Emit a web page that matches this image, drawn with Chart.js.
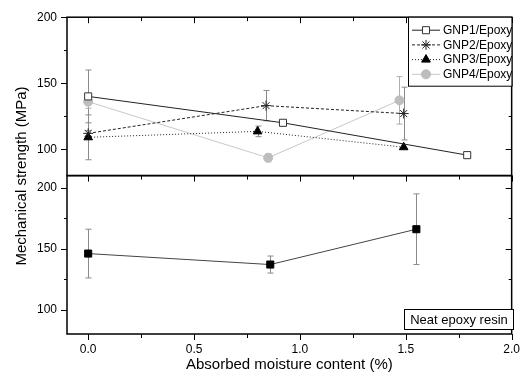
<!DOCTYPE html>
<html>
<head>
<meta charset="utf-8">
<title>Mechanical strength vs absorbed moisture</title>
<script src="https://cdn.jsdelivr.net/npm/chart.js@4.4.0/dist/chart.umd.min.js"></script>
<style>
  html, body { margin: 0; padding: 0; background: #fff; }
  #wrap { width: 528px; height: 383px; position: relative; }
</style>
</head>
<body>
<div id="wrap"><canvas id="strengthChart"></canvas></div>
<script>
// values
const xTickValues = [0, 0.5, 1.0, 1.5, 2.0];
const xMinorValues = [0.25, 0.75, 1.25, 1.75];
const yTickValues = [100, 150, 200];
const yMinorValues = [125, 175];

const gnp1X = [0, 0.92, 1.79];
const gnp1Y = [140, 120, 95.5];
const gnp1Err = [20, 0, 2];

const gnp2X = [0, 0.84, 1.49];
const gnp2Y = [112, 133, 127];
const gnp2Err = [2, 11.5, 20];

const gnp3X = [0, 0.80, 1.49];
const gnp3Y = [109, 113.5, 101.5];
const gnp3Err = [17, 4, 0];

const gnp4X = [0, 0.85, 1.47];
const gnp4Y = [136, 93.5, 137];
const gnp4Err = [5, 3, 18];

const neatX = [0, 0.86, 1.55];
const neatY = [146, 137, 166];
const neatErr = [20, 7, 29];

const FONT = "'Liberation Sans', Arial, sans-serif";
Chart.defaults.font.family = FONT;
Chart.defaults.color = '#000';

function pts(xs, ys) {
    return xs.map((x, i) => ({ x: x, y: ys[i] }));
}

// error bars, drawn under the markers
const errorBars = {
    id: 'errorBars',
    beforeDatasetsDraw(chart) {
        const ctx = chart.ctx;
        const xs = chart.scales.x;
        ctx.save();
        chart.data.datasets.forEach(ds => {
            const ys = chart.scales[ds.yAxisID];
            ctx.strokeStyle = ds.errColor || '#8a8a8a';
            ctx.lineWidth = 1;
            ds.data.forEach((p, j) => {
                const e = ds.errors[j];
                if (!e) return;
                const px = Math.round(xs.getPixelForValue(p.x)) + 0.5;
                const t = ys.getPixelForValue(p.y + e);
                const b = ys.getPixelForValue(p.y - e);
                ctx.beginPath();
                ctx.moveTo(px, t); ctx.lineTo(px, b);
                ctx.moveTo(px - 3, t); ctx.lineTo(px + 3, t);
                ctx.moveTo(px - 3, b); ctx.lineTo(px + 3, b);
                ctx.stroke();
            });
        });
        ctx.restore();
    }
};

// Origin-style frames, ticks, legend and labels
const originFrame = {
    id: 'originFrame',
    afterDraw(chart) {
        const ctx = chart.ctx;
        const xs = chart.scales.x;
        const L = chart.chartArea.left, R = chart.chartArea.right;
        ctx.save();
        ctx.strokeStyle = '#000';

        ['yTop', 'yBot'].forEach(id => {
            const ys = chart.scales[id];
            const T = ys.top, B = ys.bottom;
            ctx.lineWidth = 1.5;
            ctx.strokeRect(L, T, R - L, B - T);
            ctx.lineWidth = 1;
            ctx.beginPath();
            const yt = (v, len) => {
                const py = Math.round(ys.getPixelForValue(v)) + 0.5;
                ctx.moveTo(L - len, py); ctx.lineTo(L, py);
                ctx.moveTo(R, py); ctx.lineTo(R - len, py);
            };
            yTickValues.forEach(v => yt(v, 6));
            yMinorValues.forEach(v => yt(v, 3));
            const xt = (v, len) => {
                const px = Math.round(xs.getPixelForValue(v)) + 0.5;
                ctx.moveTo(px, B); ctx.lineTo(px, B + len);
                if (id === 'yTop') { ctx.moveTo(px, T); ctx.lineTo(px, T + len); }
            };
            xTickValues.forEach(v => xt(v, 6));
            xMinorValues.forEach(v => xt(v, 4));
            ctx.stroke();
        });

        // y axis title spanning both panels
        ctx.save();
        ctx.translate(22, 176);
        ctx.rotate(-Math.PI / 2);
        ctx.font = '15px ' + FONT;
        ctx.fillStyle = '#000';
        ctx.textAlign = 'center';
        ctx.textBaseline = 'middle';
        ctx.fillText('Mechanical strength (MPa)', 0, 0);
        ctx.restore();

        // legend box in the top panel
        const lx = 408, ly = chart.scales.yTop.top, lw = R - 408, lh = 69;
        ctx.fillStyle = '#fff';
        ctx.fillRect(lx, ly, lw, lh);
        ctx.lineWidth = 1;
        ctx.strokeRect(lx + 0.5, ly, lw, lh);
        const rows = [0, 1, 2, 3];
        rows.forEach(i => {
            const ds = chart.data.datasets[i];
            const cy = ly + 13 + i * 14.7;
            ctx.save();
            ctx.strokeStyle = ds.borderColor;
            ctx.setLineDash(ds.borderDash || []);
            ctx.lineWidth = 1;
            ctx.beginPath();
            ctx.moveTo(412, cy); ctx.lineTo(440, cy);
            ctx.stroke();
            ctx.setLineDash([]);
            ctx.fillStyle = ds.pointBackgroundColor;
            ctx.strokeStyle = ds.pointBorderColor;
            ctx.lineWidth = ds.pointBorderWidth;
            Chart.helpers.drawPoint(ctx, {
                pointStyle: ds.pointStyle, radius: ds.pointRadius,
                rotation: 0, borderWidth: ds.pointBorderWidth
            }, 426, cy);
            ctx.restore();
            ctx.fillStyle = '#000';
            ctx.font = '12px ' + FONT;
            ctx.textAlign = 'left';
            ctx.textBaseline = 'middle';
            ctx.fillText(ds.label, 443, cy + 0.5);
        });

        // label box in the bottom panel
        ctx.fillStyle = '#fff';
        ctx.fillRect(404, 309, 109, 20);
        ctx.strokeStyle = '#000';
        ctx.strokeRect(404.5, 309.5, 109, 20);
        ctx.fillStyle = '#000';
        ctx.font = '13px ' + FONT;
        ctx.textAlign = 'center';
        ctx.textBaseline = 'middle';
        ctx.fillText('Neat epoxy resin', 459, 320);
        ctx.restore();
    }
};

function yScale(min, max) {
    return {
        type: 'linear',
        position: 'left',
        stack: 'panels',
        stackWeight: 1,
        min: min,
        max: max,
        afterBuildTicks: s => { s.ticks = yTickValues.map(v => ({ value: v })); },
        afterFit: s => { s.width = 67; },
        grid: { display: false, drawTicks: false },
        border: { display: false },
        ticks: { font: { size: 12 }, color: '#000', padding: 10 }
    };
}

const ctx = document.getElementById('strengthChart').getContext('2d');
new Chart(ctx, {
    type: 'line',
    data: {
        datasets: [{
            label: 'GNP1/Epoxy',
            data: pts(gnp1X, gnp1Y),
            errors: gnp1Err,
            yAxisID: 'yTop',
            borderColor: '#222',
            borderWidth: 1,
            pointStyle: 'rect',
            pointRadius: 5,
            pointBackgroundColor: '#fff',
            pointBorderColor: '#333',
            pointBorderWidth: 1
        }, {
            label: 'GNP2/Epoxy',
            data: pts(gnp2X, gnp2Y),
            errors: gnp2Err,
            yAxisID: 'yTop',
            borderColor: '#222',
            borderWidth: 1,
            borderDash: [3, 2],
            pointStyle: 'star',
            pointRadius: 5,
            pointBackgroundColor: '#000',
            pointBorderColor: '#222',
            pointBorderWidth: 1
        }, {
            label: 'GNP3/Epoxy',
            data: pts(gnp3X, gnp3Y),
            errors: gnp3Err,
            yAxisID: 'yTop',
            borderColor: '#222',
            borderWidth: 1,
            borderDash: [1, 2],
            pointStyle: 'triangle',
            pointRadius: 5,
            pointBackgroundColor: '#000',
            pointBorderColor: '#000',
            pointBorderWidth: 1
        }, {
            label: 'GNP4/Epoxy',
            data: pts(gnp4X, gnp4Y),
            errors: gnp4Err,
            errColor: '#b0b0b0',
            yAxisID: 'yTop',
            borderColor: '#c8c8c8',
            borderWidth: 1,
            pointStyle: 'circle',
            pointRadius: 4.5,
            pointBackgroundColor: '#bdbdbd',
            pointBorderColor: '#bdbdbd',
            pointBorderWidth: 1
        }, {
            label: 'Neat epoxy resin',
            data: pts(neatX, neatY),
            errors: neatErr,
            yAxisID: 'yBot',
            borderColor: '#444',
            borderWidth: 1,
            pointStyle: 'rect',
            pointRadius: 5,
            pointBackgroundColor: '#000',
            pointBorderColor: '#000',
            pointBorderWidth: 1
        }]
    },
    options: {
        responsive: true,
        maintainAspectRatio: false,
        animation: false,
        layout: { padding: { top: 16, right: 9, left: 0, bottom: 0 } },
        plugins: {
            legend: { display: false },
            tooltip: { enabled: false }
        },
        scales: {
            x: {
                type: 'linear',
                min: -0.1,
                max: 2.0,
                afterBuildTicks: s => { s.ticks = xTickValues.map(v => ({ value: v })); },
                afterFit: s => { s.height = 49; },
                grid: { display: false, drawTicks: false },
                border: { display: false },
                ticks: {
                    font: { size: 12 }, color: '#000', padding: 8, maxRotation: 0,
                    callback: v => Number(v).toFixed(1)
                },
                title: {
                    display: true,
                    text: 'Absorbed moisture content (%)',
                    font: { size: 15 },
                    color: '#000',
                    padding: { top: 0, bottom: 9 }
                }
            },
            // left boxes are stacked in reverse order, so the lower panel comes first
            yBot: yScale(80, 210),
            yTop: yScale(80, 200)
        }
    },
    plugins: [errorBars, originFrame]
});
</script>
</body>
</html>
